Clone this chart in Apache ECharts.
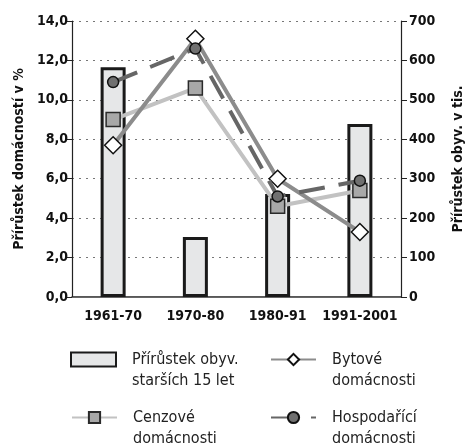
<!DOCTYPE html>
<html>
<head>
<meta charset="utf-8">
<script src="https://cdn.jsdelivr.net/npm/echarts@6/dist/echarts.min.js"></script>
<style>
  html, body { margin: 0; padding: 0; background: #fff; }
  #chart { width: 467px; height: 448px; }
</style>
</head>
<body>
<div id="chart"></div>
<script>
const categories = ['1961-70', '1970-80', '1980-91', '1991-2001']
const obyvatele = [583, 152, 261, 439]       // tis., right axis
const bytove = [7.7, 13.1, 6.0, 3.3]          // %
const cenzove = [9.0, 10.6, 4.6, 5.4]
const hospodarici = [10.9, 12.6, 5.1, 5.9]

const FONT = '"DejaVu Sans Condensed", "Liberation Sans Narrow", sans-serif'

const chart = echarts.init(document.getElementById('chart'))

// legend text gets an empty first line so the icon sits next to the first text line
function legendAt(name, left, top, icon) {
  let l = {
    data: [{ name: name }],
    left: left,
    top: top,
    padding: 0,
    itemWidth: 45,
    itemHeight: 14,
    itemGap: 0,
    formatter: n => '\n' + n,
    textStyle: { fontFamily: FONT, fontSize: 16, color: '#222', lineHeight: 21, padding: [0, 0, 0, 11] },
    selectedMode: false
  }
  if (icon) l.data[0].icon = icon
  return l
}

chart.setOption({
  animation: false,
  grid: { left: 72, right: 66, top: 21, bottom: 151, outerBoundsMode: 'none' },
  legend: [
    legendAt('Přírůstek obyv.\nstarších 15 let', 70, 328, 'rect'),
    legendAt('Bytové\ndomácnosti', 270, 328),
    legendAt('Cenzové\ndomácnosti', 71, 386),
    legendAt('Hospodařící\ndomácnosti', 270, 386)
  ],
  xAxis: [
    {
      type: 'category',
      data: categories,
      axisLine: { lineStyle: { color: '#222', width: 1.5 } },
      axisTick: { show: false },
      axisLabel: { fontFamily: FONT, fontWeight: 'bold', fontSize: 14, color: '#111', margin: 12, interval: 0 }
    },
    {
      type: 'category',
      data: categories,
      position: 'top',
      axisLine: { lineStyle: { color: '#666', width: 1.2 } },
      axisTick: { show: false },
      axisLabel: { show: false }
    }
  ],
  yAxis: [
    {
      type: 'value',
      min: 0, max: 14, interval: 2,
      name: 'Přírůstek domácností v %',
      nameLocation: 'middle',
      nameRotate: 90,
      nameGap: 42,
      nameTextStyle: { fontFamily: FONT, fontWeight: 'bold', fontSize: 14, color: '#111' },
      axisLine: { show: true, lineStyle: { color: '#222', width: 1.2 } },
      axisTick: { show: true, length: 6, lineStyle: { color: '#222' } },
      axisLabel: {
        fontFamily: FONT, fontWeight: 'bold', fontSize: 14, color: '#111', margin: 4,
        formatter: v => v.toFixed(1).replace('.', ',')
      },
      splitLine: { lineStyle: { color: '#777', type: [2, 5], width: 1 } }
    },
    {
      type: 'value',
      min: 0, max: 700, interval: 100,
      name: 'Přírůstek obyv. v tis.',
      nameLocation: 'middle',
      nameRotate: 90,
      nameGap: 50,
      nameTextStyle: { fontFamily: FONT, fontWeight: 'bold', fontSize: 14, color: '#111' },
      axisLine: { show: true, lineStyle: { color: '#222', width: 1.2 } },
      axisTick: { show: true, length: 6, lineStyle: { color: '#222' } },
      axisLabel: { fontFamily: FONT, fontWeight: 'bold', fontSize: 14, color: '#111', margin: 8 },
      splitLine: { show: false }
    }
  ],
  series: [
    {
      name: 'Přírůstek obyv.\nstarších 15 let',
      type: 'bar',
      yAxisIndex: 1,
      data: obyvatele,
      barWidth: 25,
      itemStyle: { color: '#e6e7e8', borderColor: '#1a1a1a', borderWidth: 3 }
    },
    {
      name: 'Cenzové\ndomácnosti',
      type: 'line',
      data: cenzove,
      symbol: 'rect',
      symbolSize: 14,
      lineStyle: { color: '#c2c2c2', width: 4 },
      itemStyle: { color: '#a8a8a8', borderColor: '#2a2a2a', borderWidth: 1.5 },
      z: 3
    },
    {
      name: 'Bytové\ndomácnosti',
      type: 'line',
      data: bytove,
      symbol: 'diamond',
      symbolSize: [17, 17],
      lineStyle: { color: '#8c8c8c', width: 4 },
      itemStyle: { color: '#fff', borderColor: '#111', borderWidth: 1.5 },
      z: 4
    },
    {
      name: 'Hospodařící\ndomácnosti',
      type: 'line',
      data: hospodarici,
      symbol: 'circle',
      symbolSize: 11,
      lineStyle: { color: '#666', width: 4, type: [26, 14] },
      itemStyle: { color: '#707070', borderColor: '#111', borderWidth: 1.5 },
      z: 5
    }
  ]
})
</script>
</body>
</html>
